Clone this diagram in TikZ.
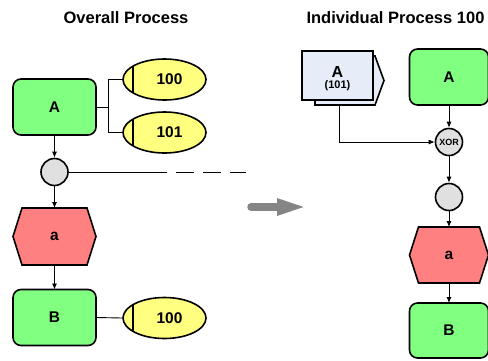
\documentclass[tikz,border=0pt]{standalone}
\usepackage{fontspec}
\setmainfont{Liberation Sans}
\usetikzlibrary{arrows.meta,shapes.geometric,backgrounds}
\definecolor{fngreen}{HTML}{80FF80}
\definecolor{evred}{HTML}{FF8080}
\definecolor{orgyellow}{HTML}{FFFF80}
\definecolor{opgray}{HTML}{E0E0E0}
\definecolor{ifblue}{HTML}{E6ECF8}
\definecolor{bigarrow}{HTML}{858585}

% hexagonal event outline drawn behind a named node
\newcommand\evoutline[1]{%
  \filldraw[evshape] ([xshift=9pt]#1.north west) -- ([xshift=-9pt]#1.north east)
    -- (#1.east) -- ([xshift=-9pt]#1.south east) -- ([xshift=9pt]#1.south west)
    -- (#1.west) -- cycle;}
% vertical bar near the left end of an organisational-unit ellipse
\newcommand\orgbar[1]{%
  \draw[line width=1.6pt] ([shift={(-31.5,-13.3)}]#1.center) -- ([shift={(-31.5,13.3)}]#1.center);}

\begin{document}
\begin{tikzpicture}[x=1pt,y=-1pt,
  lbl/.style={font=\bfseries\fontsize{15.5}{18}\selectfont},
  title/.style={font=\bfseries\fontsize{16.5}{19}\selectfont, anchor=base, inner sep=0pt},
  func/.style={lbl, draw, line width=1.6pt, rounded corners=8pt, fill=fngreen,
    minimum width=83pt, minimum height=56pt, inner sep=0pt, outer sep=0pt},
  evnode/.style={lbl, minimum width=83pt, minimum height=57pt, inner sep=0pt, outer sep=0pt},
  evshape/.style={draw=black, line width=1.6pt, fill=evred, line join=miter},
  org/.style={lbl, ellipse, draw, line width=1.6pt, fill=orgyellow,
    minimum width=83pt, minimum height=41pt, inner sep=0pt},
  oper/.style={circle, draw, line width=1.6pt, fill=opgray, minimum size=27pt, inner sep=0pt,
    font=\bfseries\fontsize{9}{10}\selectfont},
  conn/.style={line width=0.9pt},
  flow/.style={conn, -{Latex[length=6pt,width=5pt]}},
  iface/.style={draw=black, line width=1.6pt, fill=ifblue},
]
\useasboundingbox (0,0) rectangle (488,360);

% headings
\node[title] (t1) at (126,23.3) {Overall Process};
\node[title] (t2) at (395.5,23.3) {Individual Process 100};

% ---------- overall process ----------
\node[func] (fa) at (54.5,107) {A};
\node[org] (o100) at (164.5,79.5) {\hspace*{10pt}100};
\node[org] (o101) at (164.5,132.5) {\hspace*{10pt}101};
\orgbar{o100}
\orgbar{o101}
\coordinate (split) at (108,107);
\draw[conn] (fa.east) -- (split);
\draw[conn] (split) |- (o100.west);
\draw[conn] (split) |- (o101.west);

\node[oper] (c1) at (54.5,172) {};
\coordinate (cut) at (246,172);
\draw[conn, dash pattern=on 98pt off 9pt on 18pt off 9pt on 18pt off 9pt on 18pt off 9pt]
  (c1.east) -- (cut);

\node[evnode] (ea) at (54.5,236.5) {a};
\begin{scope}[on background layer]\evoutline{ea}\end{scope}

\node[func] (fb) at (54.5,317.5) {B};
\node[org] (o100b) at (164.5,318) {\hspace*{10pt}100};
\orgbar{o100b}
\draw[conn] (fb.east) -- (o100b.west);

\draw[flow] (fa.south) -- (c1.north);
\draw[flow] (c1.south) -- (ea.north);
\draw[flow] (ea.south) -- (fb.north);

% big transition arrow
\draw[bigarrow, line width=7.5pt, line cap=round] (251,207) -- (278,207);
\fill[bigarrow] (277,198) -- (303.5,207) -- (277,216) -- cycle;

% ---------- individual process 100 ----------
\node[minimum width=71pt, minimum height=49pt, inner sep=0pt, outer sep=0pt, align=center,
  font=\bfseries] (doc) at (337.5,75.5)
  {\fontsize{16}{14}\selectfont\rule{0pt}{17.5pt}A\\[-1pt]\fontsize{11}{14}\selectfont(101)};
\begin{scope}[on background layer]
  \filldraw[iface] ([shift={(13,5)}]doc.north west) -- ([shift={(73,5)}]doc.north west)
    -- ([shift={(82,29.5)}]doc.north west) -- ([shift={(73,54)}]doc.north west)
    -- ([shift={(13,54)}]doc.north west) -- cycle;
  \filldraw[iface] (doc.north west) rectangle (doc.south east);
\end{scope}
\coordinate (docb) at ([shift={(37,54)}]doc.north west);

\node[func, minimum width=79pt] (ra) at (449,77) {A};
\node[oper] (xor) at (449,142) {XOR};
\node[oper] (c2) at (449,197) {};
\node[evnode, minimum width=79pt, minimum height=56pt] (rea) at (449,255) {a};
\begin{scope}[on background layer]\evoutline{rea}\end{scope}
\node[func, minimum width=79pt, minimum height=55pt] (rb) at (449,330.5) {B};

\draw[flow] (ra.south) -- (xor.north);
\draw[flow] (docb) |- (xor.west);
\draw[flow] (xor.south) -- (c2.north);
\draw[flow] (c2.south) -- (rea.north);
\draw[flow] (rea.south) -- (rb.north);
\end{tikzpicture}
\end{document}
